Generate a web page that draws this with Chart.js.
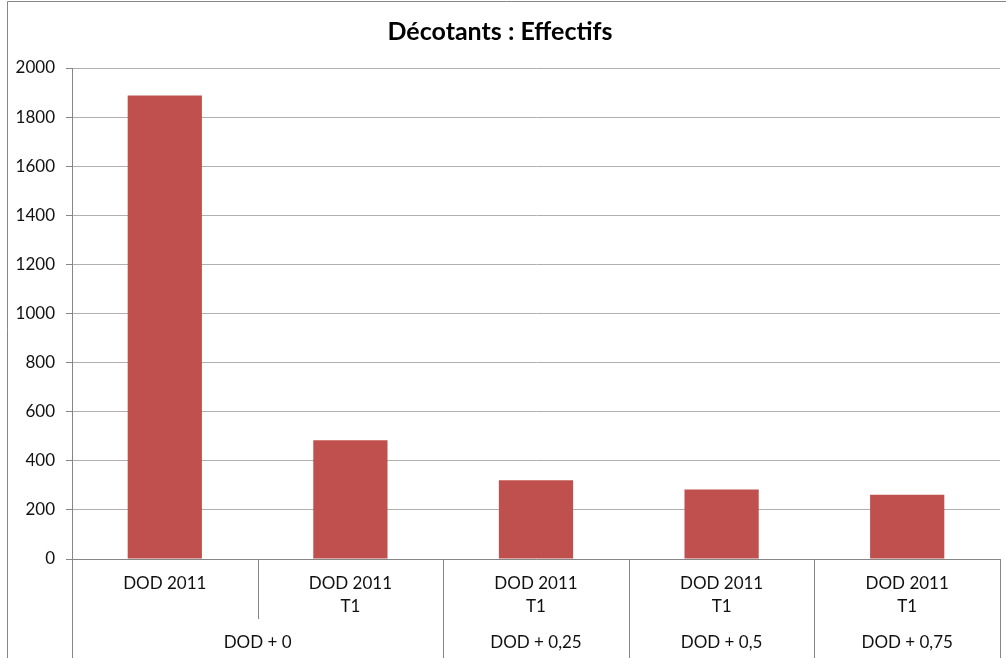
<!DOCTYPE html>
<html lang="fr">
<head>
<meta charset="utf-8">
<title>Décotants : Effectifs</title>
<script src="https://cdn.jsdelivr.net/npm/chart.js@4/dist/chart.umd.min.js"></script>
<style>
    html, body { margin: 0; padding: 0; background: #ffffff; }
    #chart { display: block; }
</style>
</head>
<body>
<canvas id="chart" width="1006" height="658"></canvas>
<script>
// Inner category labels (multi-line) and the counts for each one
const categories = [
    ["DOD 2011"],
    ["DOD 2011", "T1"],
    ["DOD 2011", "T1"],
    ["DOD 2011", "T1"],
    ["DOD 2011", "T1"],
];
const effectifs = [1888, 484, 321, 283, 262];

// Outer grouping row under the axis: label and how many categories it covers
const groupLabels = ["DOD + 0", "DOD + 0,25", "DOD + 0,5", "DOD + 0,75"];
const groupSpans = [2, 1, 1, 1];

const yTicks = { min: 0, max: 2000, step: 200 };

const axisColor = "#868686";
const gridColor = "#b0b0b0";
const textColor = "#111111";
const fontFamily = "Lato, 'Open Sans', sans-serif";

// Frame, category separators and the group row below the x axis
const groupAxis = {
    id: "groupAxis",
    afterDraw(chart) {
        const { ctx, chartArea, scales } = chart;
        const x = scales.x;
        const bottom = chart.height;
        const innerBottom = 619;

        ctx.save();
        ctx.strokeStyle = axisColor;
        ctx.lineWidth = 1;

        // outer chart frame (left + top edges)
        ctx.beginPath();
        ctx.moveTo(7.5, bottom);
        ctx.lineTo(7.5, 1.5);
        ctx.lineTo(chart.width, 1.5);
        ctx.stroke();

        const edge = (i) => {
            if (i <= 0) return chartArea.left;
            if (i >= categories.length) return chartArea.right;
            return (x.getPixelForValue(i - 1) + x.getPixelForValue(i)) / 2;
        };

        // which boundaries start a new group
        const groupStarts = new Set();
        let idx = 0;
        groupSpans.forEach((n) => {
            groupStarts.add(idx);
            idx += n;
        });
        groupStarts.add(categories.length);

        for (let i = 0; i <= categories.length; i++) {
            const px = Math.round(edge(i)) + 0.5;
            ctx.beginPath();
            ctx.moveTo(px, chartArea.bottom);
            ctx.lineTo(px, groupStarts.has(i) ? bottom : innerBottom);
            ctx.stroke();
        }

        ctx.fillStyle = textColor;
        ctx.font = "17px " + fontFamily;
        ctx.textAlign = "center";
        ctx.textBaseline = "middle";
        idx = 0;
        groupLabels.forEach((label, g) => {
            const cx = (edge(idx) + edge(idx + groupSpans[g])) / 2;
            ctx.fillText(label, cx, 643);
            idx += groupSpans[g];
        });
        ctx.restore();
    },
};

new Chart(document.getElementById("chart"), {
    type: "bar",
    data: {
        labels: categories,
        datasets: [
            {
                label: "Effectifs",
                data: effectifs,
                backgroundColor: "#c0504d",
                borderWidth: 0,
                categoryPercentage: 1,
                barPercentage: 0.4,
            },
        ],
    },
    options: {
        responsive: false,
        animation: false,
        devicePixelRatio: 1,
        layout: {
            padding: { left: 0, right: 6, top: 0, bottom: 0 },
        },
        scales: {
            x: {
                afterFit: (scale) => {
                    scale.height = 99;
                },
                grid: { display: false },
                border: { display: true, color: axisColor, width: 1 },
                ticks: {
                    color: textColor,
                    padding: 5,
                    maxRotation: 0,
                    autoSkip: false,
                    font: { family: fontFamily, size: 17, lineHeight: 1.35 },
                },
            },
            y: {
                min: yTicks.min,
                max: yTicks.max,
                afterFit: (scale) => {
                    scale.width = 72;
                },
                grid: {
                    color: gridColor,
                    tickLength: 6,
                    tickColor: axisColor,
                },
                border: { display: true, color: axisColor, width: 1 },
                ticks: {
                    stepSize: yTicks.step,
                    color: textColor,
                    padding: 11,
                    font: { family: fontFamily, size: 17 },
                    callback: (value) => String(value),
                },
            },
        },
        plugins: {
            legend: { display: false },
            tooltip: { enabled: false },
            title: {
                display: true,
                text: "Décotants : Effectifs",
                color: "#000000",
                font: { family: fontFamily, size: 25, weight: "bold", lineHeight: 1.2 },
                padding: { top: 17, bottom: 21 },
            },
        },
    },
    plugins: [groupAxis],
});
</script>
</body>
</html>
